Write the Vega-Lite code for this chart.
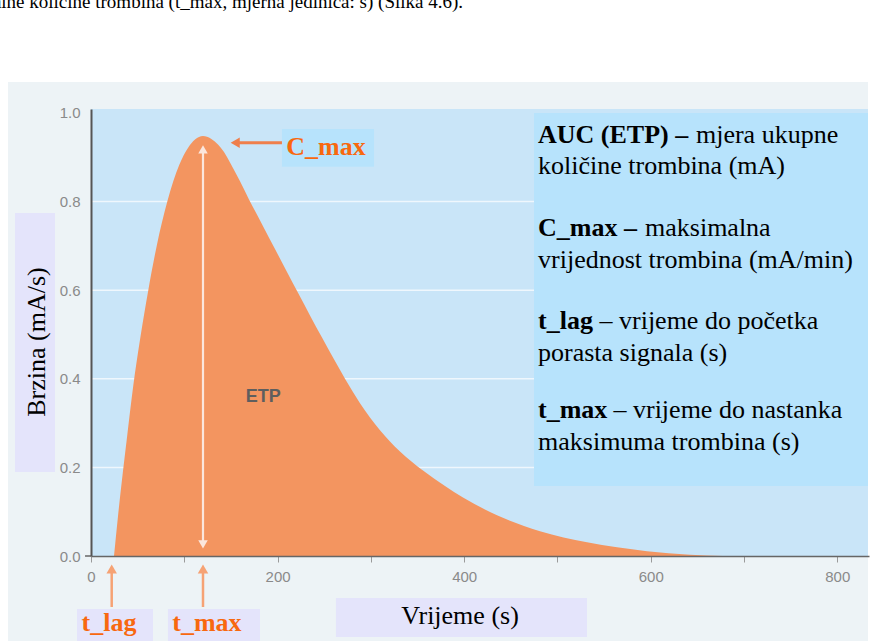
{
  "$schema": "https://vega.github.io/schema/vega-lite/v6.json",
  "width": 778,
  "height": 447,
  "autosize": {"type": "none"},
  "padding": {"left": 91, "top": 109, "right": 10, "bottom": 85},
  "background": "#ffffff",
  "config": {"view": {"stroke": null}},
  "datasets": {
    "panel": [{"x": -89, "x2": 832.9, "y": -0.2, "y2": 1.07}],
    "plotbg": [{"x": 0, "x2": 832.9, "y": 0, "y2": 1.009}],
    "grid": [
      {"x": 0, "x2": 832.9, "y": 0.2},
      {"x": 0, "x2": 832.9, "y": 0.4},
      {"x": 0, "x2": 832.9, "y": 0.6},
      {"x": 0, "x2": 832.9, "y": 0.8}
    ],
    "curve": [
      {"x": 24.66, "y": 0}, {"x": 28.94, "y": 0.09}, {"x": 33.23, "y": 0.172}, {"x": 38.27, "y": 0.262},
      {"x": 45.34, "y": 0.385}, {"x": 52.53, "y": 0.488}, {"x": 61.42, "y": 0.6}, {"x": 70.43, "y": 0.7},
      {"x": 81.79, "y": 0.8}, {"x": 94.66, "y": 0.883}, {"x": 104.3, "y": 0.922}, {"x": 111.49, "y": 0.94},
      {"x": 120.06, "y": 0.948}, {"x": 128.64, "y": 0.942}, {"x": 136.14, "y": 0.929}, {"x": 142.57, "y": 0.912},
      {"x": 149.01, "y": 0.888}, {"x": 159.73, "y": 0.846}, {"x": 169.37, "y": 0.805}, {"x": 183.31, "y": 0.749},
      {"x": 197.24, "y": 0.693}, {"x": 210.11, "y": 0.641}, {"x": 221.9, "y": 0.594}, {"x": 234.76, "y": 0.543},
      {"x": 247.63, "y": 0.493}, {"x": 260.49, "y": 0.444}, {"x": 272.28, "y": 0.4}, {"x": 288.36, "y": 0.345},
      {"x": 309.8, "y": 0.284}, {"x": 331.24, "y": 0.236}, {"x": 355.9, "y": 0.193}, {"x": 379.48, "y": 0.158},
      {"x": 398.78, "y": 0.132}, {"x": 435.23, "y": 0.092}, {"x": 481.32, "y": 0.056}, {"x": 531.71, "y": 0.031},
      {"x": 596.03, "y": 0.011}, {"x": 642.13, "y": 0.003}, {"x": 677.5, "y": 0}
    ],
    "legendbox": [{"x": 474.9, "x2": 832.9, "y": 0.158, "y2": 1.0}],
    "cmaxbox": [{"x": 204.7, "x2": 303.4, "y": 0.8788, "y2": 0.9639}],
    "lavbox": [
      {"x": -81.5, "x2": -38.6, "y": 0.1896, "y2": 0.774},
      {"x": 262.6, "x2": 531.7, "y": -0.1828, "y2": -0.0948}
    ],
    "tbox": [
      {"x": -15, "x2": 66.5, "y": -0.2, "y2": -0.1196},
      {"x": 82.5, "x2": 181.2, "y": -0.2, "y2": -0.1196}
    ],
    "whitestem": [{"x": 120.06, "y": 0.03, "y2": 0.912}],
    "whiteup": [{"x": 120.06, "y": 0.918}],
    "whitedown": [{"x": 120.06, "y": 0.026}],
    "cmaxstem": [{"x": 157.6, "x2": 204.7, "y": 0.933}],
    "cmaxhead": [{"x": 154.6, "y": 0.933}],
    "upstem": [{"x": 22.2, "y": -0.1151, "y2": -0.03}, {"x": 120.06, "y": -0.1151, "y2": -0.03}],
    "uphead": [{"x": 22.2, "y": -0.0293}, {"x": 120.06, "y": -0.0293}],
    "orangelabels": [
      {"x": 251.9, "y": 0.9052, "text": "C_max"},
      {"x": 19.3, "y": -0.1693, "text": "t_lag"},
      {"x": 124.3, "y": -0.1693, "text": "t_max"}
    ],
    "etp": [{"x": 184.7, "y": 0.347, "text": "ETP"}],
    "ytitle": [{"x": -49.3, "y": 0.483, "text": "Brzina (mA/s)"}],
    "xtitle": [{"x": 395.6, "y": -0.1535, "text": "Vrijeme (s)"}],
    "toptext": [{"x": 398.8, "y": 1.238, "text": "maksimalne količine trombina (t_max, mjerna jedinica: s) (Slika 4.6)."}],
    "legbold": [
      {"x": 479.2, "y": 0.9323, "text": "AUC (ETP) –"},
      {"x": 479.2, "y": 0.7223, "text": "C_max –"},
      {"x": 479.2, "y": 0.5113, "text": "t_lag"},
      {"x": 479.2, "y": 0.3104, "text": "t_max"}
    ],
    "legreg": [
      {"x": 648.5, "y": 0.9323, "text": "mjera ukupne"},
      {"x": 479.2, "y": 0.8612, "text": "količine trombina (mA)"},
      {"x": 593.9, "y": 0.7223, "text": "maksimalna"},
      {"x": 479.2, "y": 0.6512, "text": "vrijednost trombina (mA/min)"},
      {"x": 545.1, "y": 0.5113, "text": "– vrijeme do početka"},
      {"x": 479.2, "y": 0.4402, "text": "porasta signala (s)"},
      {"x": 560.1, "y": 0.3104, "text": "– vrijeme do nastanka"},
      {"x": 479.2, "y": 0.2393, "text": "maksimuma trombina (s)"}
    ],
    "zerotick": [{"x": -6.4, "x2": 0, "y": 0}]
  },
  "encoding": {
    "x": {
      "field": "x", "type": "quantitative",
      "scale": {"domain": [0, 834], "nice": false, "zero": false},
      "axis": {
        "title": null, "grid": false, "values": [0, 100, 200, 300, 400, 500, 600, 700, 800],
        "labelExpr": "datum.value % 200 === 0 ? datum.label : ''",
        "format": "d", "labelFlush": false,
        "domainColor": "#666666", "domainWidth": 1.5,
        "tickColor": "#9a9a9a", "tickSize": 6, "tickWidth": 1,
        "labelColor": "#8a8a8a", "labelFont": "Liberation Sans", "labelFontSize": 15,
        "labelPadding": 7, "zindex": 1
      }
    },
    "y": {
      "field": "y", "type": "quantitative",
      "scale": {"domain": [0, 1.009], "nice": false, "zero": false},
      "axis": {
        "title": null, "grid": false, "values": [0, 0.2, 0.4, 0.6, 0.8, 1.0],
        "format": ".1f", "ticks": false,
        "domainColor": "#555555", "domainWidth": 2,
        "labelColor": "#8a8a8a", "labelFont": "Liberation Sans", "labelFontSize": 15,
        "labelPadding": 11, "zindex": 1
      }
    }
  },
  "layer": [
    {"data": {"name": "panel"}, "mark": {"type": "rect", "color": "#edf3f6"},
     "encoding": {"x2": {"field": "x2"}, "y2": {"field": "y2"}}},
    {"data": {"name": "plotbg"}, "mark": {"type": "rect", "color": "#c9e5f8"},
     "encoding": {"x2": {"field": "x2"}, "y2": {"field": "y2"}}},
    {"data": {"name": "grid"}, "mark": {"type": "rule", "color": "#ffffff", "opacity": 0.7, "strokeWidth": 1.5},
     "encoding": {"x2": {"field": "x2"}}},
    {"data": {"name": "curve"}, "mark": {"type": "area", "color": "#f39560", "interpolate": "monotone", "opacity": 1},
     "encoding": {}},
    {"data": {"name": "legendbox"}, "mark": {"type": "rect", "color": "#b7e3fc"},
     "encoding": {"x2": {"field": "x2"}, "y2": {"field": "y2"}}},
    {"data": {"name": "cmaxbox"}, "mark": {"type": "rect", "color": "#b7e3fc"},
     "encoding": {"x2": {"field": "x2"}, "y2": {"field": "y2"}}},
    {"data": {"name": "lavbox"}, "mark": {"type": "rect", "color": "#e4e4fb"},
     "encoding": {"x2": {"field": "x2"}, "y2": {"field": "y2"}}},
    {"data": {"name": "tbox"}, "mark": {"type": "rect", "color": "#e4e4fb"},
     "encoding": {"x2": {"field": "x2"}, "y2": {"field": "y2"}}},
    {"data": {"name": "whitestem"}, "mark": {"type": "rule", "color": "#fbe6dc", "strokeWidth": 2.2},
     "encoding": {"y2": {"field": "y2"}}},
    {"data": {"name": "whiteup"}, "mark": {"type": "point", "shape": "triangle-up", "filled": true, "size": 90, "color": "#fbe6dc", "opacity": 1}},
    {"data": {"name": "whitedown"}, "mark": {"type": "point", "shape": "triangle-down", "filled": true, "size": 90, "color": "#fbe6dc", "opacity": 1}},
    {"data": {"name": "cmaxstem"}, "mark": {"type": "rule", "color": "#ef7f4c", "strokeWidth": 3},
     "encoding": {"x2": {"field": "x2"}}},
    {"data": {"name": "cmaxhead"}, "mark": {"type": "point", "shape": "triangle-left", "filled": true, "size": 110, "color": "#ef7f4c", "opacity": 1}},
    {"data": {"name": "upstem"}, "mark": {"type": "rule", "color": "#f6a274", "strokeWidth": 2.5},
     "encoding": {"y2": {"field": "y2"}}},
    {"data": {"name": "uphead"}, "mark": {"type": "point", "shape": "triangle-up", "filled": true, "size": 110, "color": "#f6a274", "opacity": 1}},
    {"data": {"name": "orangelabels"}, "mark": {"type": "text", "font": "Liberation Serif", "fontSize": 26, "fontWeight": "bold", "color": "#f8680f", "align": "center", "baseline": "alphabetic"},
     "encoding": {"text": {"field": "text"}}},
    {"data": {"name": "etp"}, "mark": {"type": "text", "font": "Liberation Sans", "fontSize": 18, "fontWeight": "bold", "color": "#5e5e5e", "align": "center", "baseline": "alphabetic"},
     "encoding": {"text": {"field": "text"}}},
    {"data": {"name": "ytitle"}, "mark": {"type": "text", "font": "Liberation Serif", "fontSize": 26, "color": "#000000", "align": "center", "baseline": "alphabetic", "angle": 270},
     "encoding": {"text": {"field": "text"}}},
    {"data": {"name": "xtitle"}, "mark": {"type": "text", "font": "Liberation Serif", "fontSize": 26, "color": "#000000", "align": "center", "baseline": "alphabetic"},
     "encoding": {"text": {"field": "text"}}},
    {"data": {"name": "toptext"}, "mark": {"type": "text", "font": "Liberation Serif", "fontSize": 19, "color": "#000000", "align": "right", "baseline": "alphabetic"},
     "encoding": {"text": {"field": "text"}}},
    {"data": {"name": "legbold"}, "mark": {"type": "text", "font": "Liberation Serif", "fontSize": 26, "fontWeight": "bold", "color": "#000000", "align": "left", "baseline": "alphabetic"},
     "encoding": {"text": {"field": "text"}}},
    {"data": {"name": "legreg"}, "mark": {"type": "text", "font": "Liberation Serif", "fontSize": 26, "color": "#000000", "align": "left", "baseline": "alphabetic"},
     "encoding": {"text": {"field": "text"}}},
    {"data": {"name": "zerotick"}, "mark": {"type": "rule", "color": "#666666", "strokeWidth": 1.5},
     "encoding": {"x2": {"field": "x2"}}}
  ]
}
